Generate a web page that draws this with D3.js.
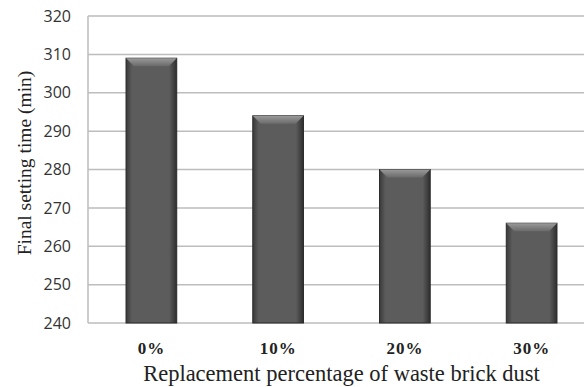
<!DOCTYPE html>
<html><head><meta charset="utf-8">
<script src="https://cdn.jsdelivr.net/npm/d3@7"></script>
<style>html,body{margin:0;padding:0;background:#fff;overflow:hidden}</style>
</head><body>
<svg id="c" width="584" height="387"></svg>
<script>
const categories = ["0%", "10%", "20%", "30%"];
const values = [309, 294, 280, 266];
const yTicks = [240, 250, 260, 270, 280, 290, 300, 310, 320];

const svg = d3.select("#c");
const m = {left: 88, right: 595, top: 16, bottom: 323};
const x = d3.scaleBand().domain(categories).range([m.left, m.right]).paddingInner(0.6).paddingOuter(0.3);
const y = d3.scaleLinear().domain([240, 320]).range([m.bottom, m.top]);

const defs = svg.append("defs");
const hg = defs.append("linearGradient").attr("id", "hg").attr("x1", 0).attr("x2", 1).attr("y1", 0).attr("y2", 0);
hg.append("stop").attr("offset", 0).attr("stop-color", "#3a3a3a");
hg.append("stop").attr("offset", 0.12).attr("stop-color", "#5c5c5c");
hg.append("stop").attr("offset", 0.85).attr("stop-color", "#5c5c5c");
hg.append("stop").attr("offset", 1).attr("stop-color", "#2e2e2e");
const tg = defs.append("linearGradient").attr("id", "tg").attr("x1", 0).attr("x2", 0).attr("y1", 0).attr("y2", 1);
tg.append("stop").attr("offset", 0).attr("stop-color", "#9a9a9a");
tg.append("stop").attr("offset", 1).attr("stop-color", "#6a6a6a");

// gridlines
const grid = svg.append("g");
grid.selectAll("line").data(yTicks).join("line")
  .attr("x1", m.left).attr("x2", m.right)
  .attr("y1", d => y(d)).attr("y2", d => y(d))
  .attr("stroke", "#bdbdbd").attr("stroke-width", 1.5);
svg.append("line").attr("x1", m.left).attr("x2", m.left).attr("y1", m.top).attr("y2", m.bottom)
  .attr("stroke", "#bdbdbd").attr("stroke-width", 1.5);

// y axis labels
const yAxis = d3.axisLeft(y).tickValues(yTicks).tickSize(0).tickPadding(17);
const ga = svg.append("g").attr("transform", `translate(${m.left},0)`).call(yAxis);
ga.select(".domain").remove();
ga.selectAll("text").attr("font-family", "Open Sans, Liberation Sans, sans-serif").attr("font-size", 16).attr("fill", "#333");

// bars
const bars = svg.append("g").selectAll("g").data(values).join("g");
bars.append("rect")
  .attr("x", (d, i) => x(categories[i])).attr("width", x.bandwidth())
  .attr("y", d => y(d)).attr("height", d => y(240) - y(d))
  .attr("fill", "url(#hg)").attr("stroke", "#2a2a2a").attr("stroke-width", 1);
bars.append("path")
  .attr("d", (d, i) => {
    const x0 = x(categories[i]), w = x.bandwidth(), t = y(d), b = 8;
    return `M${x0},${t}L${x0 + w},${t}L${x0 + w - b},${t + b}L${x0 + b},${t + b}Z`;
  })
  .attr("fill", "url(#tg)");

// x labels
svg.append("g").selectAll("text").data(categories).join("text")
  .attr("x", d => x(d) + x.bandwidth() / 2).attr("y", 354)
  .attr("text-anchor", "middle")
  .attr("font-family", "Liberation Serif, Times New Roman, serif")
  .attr("font-weight", "bold").attr("font-size", 17).attr("letter-spacing", 1).attr("fill", "#222")
  .text(d => d);

svg.append("text").attr("x", (m.left + m.right) / 2).attr("y", 381)
  .attr("text-anchor", "middle")
  .attr("font-family", "Liberation Serif, Times New Roman, serif")
  .attr("font-size", 22.5).attr("fill", "#222")
  .text("Replacement percentage of waste brick dust");

svg.append("text").attr("transform", `translate(31,163) rotate(-90)`)
  .attr("text-anchor", "middle")
  .attr("font-family", "Liberation Serif, Times New Roman, serif")
  .attr("font-size", 19.5).attr("fill", "#222")
  .text("Final setting time (min)");
</script>
</body></html>
